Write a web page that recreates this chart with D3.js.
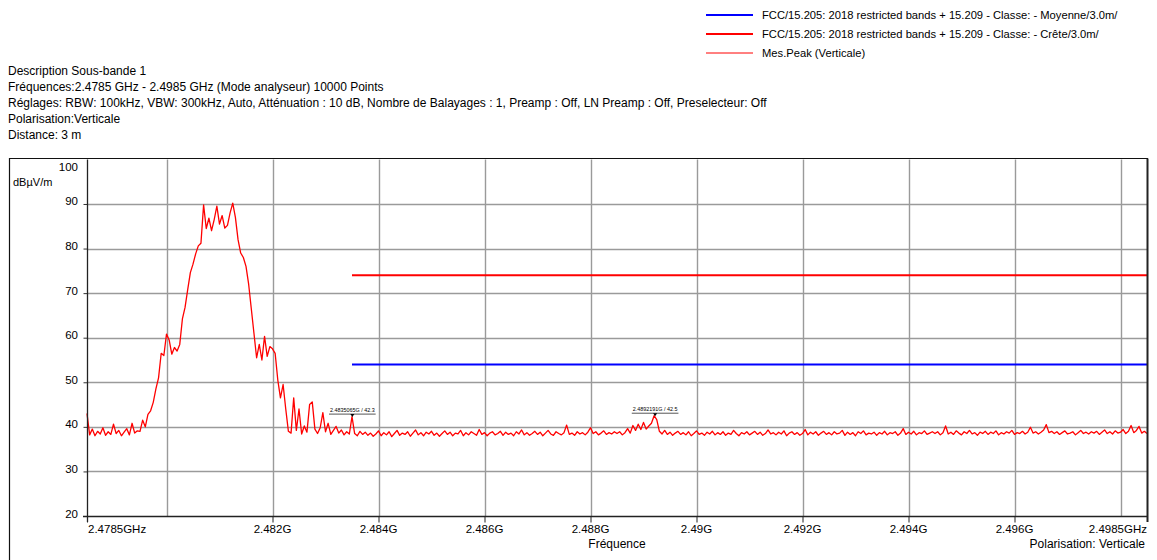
<!DOCTYPE html>
<html><head><meta charset="utf-8">
<script src="https://cdn.jsdelivr.net/npm/d3@7"></script>
<style>
body{margin:0;background:#fff;}
text{font-family:"Liberation Sans",Arial,sans-serif;fill:#000;}
</style>
</head><body><svg id="c" width="1157" height="560"></svg>
<script>
// ---------------- data ----------------
const freqStartGHz = 2.4785;
const freqStopGHz = 2.4985;
const traceStepMHz = 0.05;
const peakTrace = [
 43.0,38.2,39.5,38.0,39.0,38.4,39.8,38.1,38.9,38.3,40.6,38.5,39.2,38.0,38.8,39.6,38.2,40.8,38.6,39.1,
 39.0,41.5,40.0,42.8,43.6,45.5,48.5,51.0,56.5,56.0,60.8,59.5,56.3,57.8,57.0,58.5,64.2,66.8,70.8,74.6,
 76.5,78.8,80.6,81.2,89.8,84.5,86.8,84.0,86.5,89.5,85.5,87.4,84.6,85.2,88.0,90.2,87.0,82.0,79.0,78.0,
 76.0,72.0,66.5,61.0,55.5,58.5,55.0,60.3,55.8,58.0,57.5,56.5,50.5,46.5,49.5,44.0,39.0,38.6,46.5,39.2,
 44.0,38.4,40.2,38.8,45.0,45.6,39.5,38.5,39.8,43.2,38.9,40.8,38.3,39.2,40.1,38.6,39.3,38.2,38.9,38.4,
 42.3,38.5,38.0,39.0,38.3,38.8,38.1,38.6,37.9,38.4,39.1,38.0,38.7,38.2,38.9,37.8,38.5,39.2,38.1,38.6,
 38.3,38.9,37.9,38.6,39.3,38.2,38.7,38.0,38.8,38.4,39.0,38.1,38.6,37.9,38.5,39.1,38.3,38.8,38.0,38.6,
 38.4,39.2,38.0,38.7,38.2,38.9,38.5,38.1,39.4,38.3,38.7,38.0,38.6,38.9,38.2,38.5,39.0,38.1,38.8,38.3,
 38.6,38.0,38.9,38.4,39.3,38.2,38.7,38.1,38.5,39.0,38.3,38.8,38.0,38.6,39.2,38.4,38.1,38.9,38.5,38.2,
 38.7,40.4,38.3,38.6,38.1,38.9,38.4,38.7,38.2,38.8,39.8,38.5,38.9,38.2,38.6,39.1,38.3,38.7,38.4,38.9,
 38.5,38.9,38.2,38.7,39.6,38.6,40.3,39.2,40.6,39.4,41.0,39.5,40.2,40.8,42.5,41.6,39.0,38.4,39.2,38.3,
 38.8,38.1,38.6,39.0,38.3,38.7,38.2,38.9,38.0,38.5,39.1,38.3,38.6,38.1,38.8,38.4,39.0,38.2,38.7,38.3,
 38.9,38.1,38.6,38.3,39.2,38.5,38.0,38.7,38.4,38.9,38.2,38.6,39.0,38.3,38.8,38.1,38.5,39.3,38.4,38.7,
 38.2,38.8,38.4,39.1,38.0,38.6,38.9,38.3,38.7,38.1,38.5,39.4,38.2,38.8,38.4,38.9,38.1,38.6,39.0,38.3,
 38.7,38.2,38.9,38.4,38.6,39.2,38.1,38.8,38.3,38.7,38.0,38.9,38.5,39.1,38.2,38.6,38.4,38.8,38.1,38.7,
 38.4,39.0,38.2,38.7,38.5,38.9,38.1,38.6,39.6,38.3,38.8,38.4,39.0,38.2,38.7,38.5,39.1,38.3,38.6,38.9,
 38.5,38.9,38.2,38.7,40.2,38.4,38.8,38.3,39.1,38.6,38.2,38.9,38.5,39.2,38.4,38.7,38.1,38.8,38.5,39.0,
 38.3,38.8,38.5,39.1,38.2,38.7,38.4,38.9,38.6,39.2,38.3,38.7,38.5,39.0,38.4,38.8,39.9,38.6,38.9,38.4,
 38.8,39.3,40.5,38.7,39.0,38.5,38.9,38.3,38.7,39.1,38.4,38.6,38.9,38.2,38.7,39.2,38.5,38.8,38.4,38.9,
 38.6,39.0,38.3,38.8,39.3,38.5,38.9,38.4,39.1,38.6,38.8,39.4,38.5,39.0,40.3,38.7,39.2,40.1,38.6,39.0,38.5
];
const yTicks = [20, 30, 40, 50, 60, 70, 80, 90, 100];
const xTickValues = [2.4785, 2.482, 2.484, 2.486, 2.488, 2.49, 2.492, 2.494, 2.496, 2.4985];
const xTickLabels = ["2.4785GHz","2.482G","2.484G","2.486G","2.488G","2.49G","2.492G","2.494G","2.496G","2.4985GHz"];
const xGridValues = [2.480, 2.482, 2.484, 2.486, 2.488, 2.490, 2.492, 2.494, 2.496, 2.498];
const limitStartGHz = 2.4835;
const limitValues = [54, 74];
const limitColors = ["#0000ff", "#ff0000"];
const legendLabels = [
 "FCC/15.205: 2018 restricted bands + 15.209 - Classe: - Moyenne/3.0m/",
 "FCC/15.205: 2018 restricted bands + 15.209 - Classe: - Crête/3.0m/",
 "Mes.Peak (Verticale)"
];
const legendColors = ["#0000ff", "#ff0000", "#ff0000"];
const markerFreqs = [2.4835065, 2.4892191];
const markerValues = [42.3, 42.5];
const markerLabels = ["2.4835065G / 42.3", "2.4892191G / 42.5"];
const descriptionLines = [
 "Description Sous-bande 1",
 "Fréquences:2.4785 GHz - 2.4985 GHz (Mode analyseur) 10000 Points",
 "Réglages: RBW: 100kHz, VBW: 300kHz, Auto, Atténuation : 10 dB, Nombre de Balayages : 1, Preamp : Off, LN Preamp : Off, Preselecteur: Off",
 "Polarisation:Verticale",
 "Distance: 3 m"
];
const yUnit = "dBµV/m";
const xTitle = "Fréquence";
const polarNote = "Polarisation: Verticale";

// ---------------- drawing ----------------
const svg = d3.select("#c");
const L = 87, R = 1147, T = 159.4, B = 516;
const x = d3.scaleLinear().domain([freqStartGHz, freqStopGHz]).range([L, R]);
const y = d3.scaleLinear().domain([20, 100]).range([B, T]);
const px = v => Math.round(v) + 0.5;

// legend
const lg = svg.append("g");
legendLabels.forEach((t, i) => {
  const yy = [15, 34, 53][i];
  lg.append("line").attr("x1", 706).attr("x2", 753).attr("y1", yy).attr("y2", yy)
    .attr("stroke", legendColors[i]).attr("stroke-width", i < 2 ? 2 : 1);
  lg.append("text").attr("x", 762).attr("y", yy + 4).attr("font-size", 11.2).text(t);
});

// description
descriptionLines.forEach((t, i) => {
  svg.append("text").attr("x", 8).attr("y", 75 + i * 16).attr("font-size", 12).text(t);
});

// outer frame
svg.append("path").attr("d", `M9.5,560 V${px(T)-1} H${R+1}`).attr("fill", "none").attr("stroke", "#111").attr("stroke-width", 1.2);

// grid
const g = svg.append("g");
g.selectAll(".hg").data(yTicks.filter(v => v > 20 && v < 100)).join("line")
  .attr("x1", L).attr("x2", R).attr("y1", d => px(y(d))).attr("y2", d => px(y(d)))
  .attr("stroke", "#9a9a9a").attr("stroke-width", 1.4);
g.selectAll(".vg").data(xGridValues).join("line")
  .attr("x1", d => px(x(d))).attr("x2", d => px(x(d))).attr("y1", T).attr("y2", B)
  .attr("stroke", "#9a9a9a").attr("stroke-width", 1.4);

// limit lines
limitValues.forEach((v, i) => {
  svg.append("line").attr("x1", x(limitStartGHz)).attr("x2", R).attr("y1", y(v)).attr("y2", y(v))
    .attr("stroke", limitColors[i]).attr("stroke-width", 2);
});

// trace
const pts = peakTrace.map((v, i) => [freqStartGHz + i * traceStepMHz / 1000, v]);
svg.append("path").datum(pts)
  .attr("d", d3.line().x(d => x(d[0])).y(d => y(d[1])))
  .attr("fill", "none").attr("stroke", "#ff0000").attr("stroke-width", 1.3).attr("stroke-linejoin", "round");

// axes
const yAxis = d3.axisLeft(y).tickValues(yTicks.filter(v => v < 100)).tickSize(4).tickFormat("");
const ya = svg.append("g").attr("transform", `translate(${L + 0.5},0)`).call(yAxis);
ya.select(".domain").remove();
ya.selectAll(".tick line").attr("stroke", "#333");
svg.append("line").attr("x1", L + 0.5).attr("x2", L + 0.5).attr("y1", T).attr("y2", B + 6).attr("stroke", "#222").attr("stroke-width", 1.3);
svg.append("line").attr("x1", L - 4).attr("x2", R).attr("y1", B + 0.5).attr("y2", B + 0.5).attr("stroke", "#222").attr("stroke-width", 1.3);
svg.append("line").attr("x1", R + 0.5).attr("x2", R + 0.5).attr("y1", T - 1).attr("y2", B + 6).attr("stroke", "#222").attr("stroke-width", 2);

const xAxis = d3.axisBottom(x).tickValues(xTickValues.slice(0, -1)).tickSize(6).tickFormat("");
const xa = svg.append("g").attr("transform", `translate(0,${B + 0.5})`).call(xAxis);
xa.select(".domain").remove();
xa.selectAll(".tick line").attr("stroke", "#222");

// y labels
yTicks.forEach(v => {
  const yy = v === 100 ? y(v) + 12 : y(v) + 1.5;
  svg.append("text").attr("x", 78).attr("y", yy).attr("text-anchor", "end").attr("font-size", 11.5).text(v);
});
svg.append("text").attr("x", 13).attr("y", 186).attr("font-size", 11).text(yUnit);

// x labels
xTickValues.forEach((v, i) => {
  const anchor = i === 0 ? "start" : (i === xTickValues.length - 1 ? "end" : "middle");
  const xx = i === 0 ? x(v) + 1 : x(v);
  svg.append("text").attr("x", xx).attr("y", 533).attr("text-anchor", anchor).attr("font-size", 11.5).text(xTickLabels[i]);
});
svg.append("text").attr("x", (L + R) / 2).attr("y", 548).attr("text-anchor", "middle").attr("font-size", 12).text(xTitle);
svg.append("text").attr("x", R - 2).attr("y", 548).attr("text-anchor", "end").attr("font-size", 12).text(polarNote);

// markers
markerFreqs.forEach((f, i) => {
  const mx = x(f), my = y(markerValues[i]);
  const t = svg.append("text").attr("x", mx).attr("y", my - 5).attr("text-anchor", "middle")
    .attr("font-size", 5.4).attr("fill", "#333").text(markerLabels[i]);
  const w = t.node().getComputedTextLength();
  svg.append("line").attr("x1", mx - w / 2 - 1).attr("x2", mx + w / 2 + 1).attr("y1", my - 2.5).attr("y2", my - 2.5)
    .attr("stroke", "#555").attr("stroke-width", 1);
  svg.append("path").attr("d", `M${mx - 2},${my - 2.5} L${mx + 2},${my - 2.5} L${mx},${my + 0.5} Z`).attr("fill", "#000");
});
</script>
</body></html>
